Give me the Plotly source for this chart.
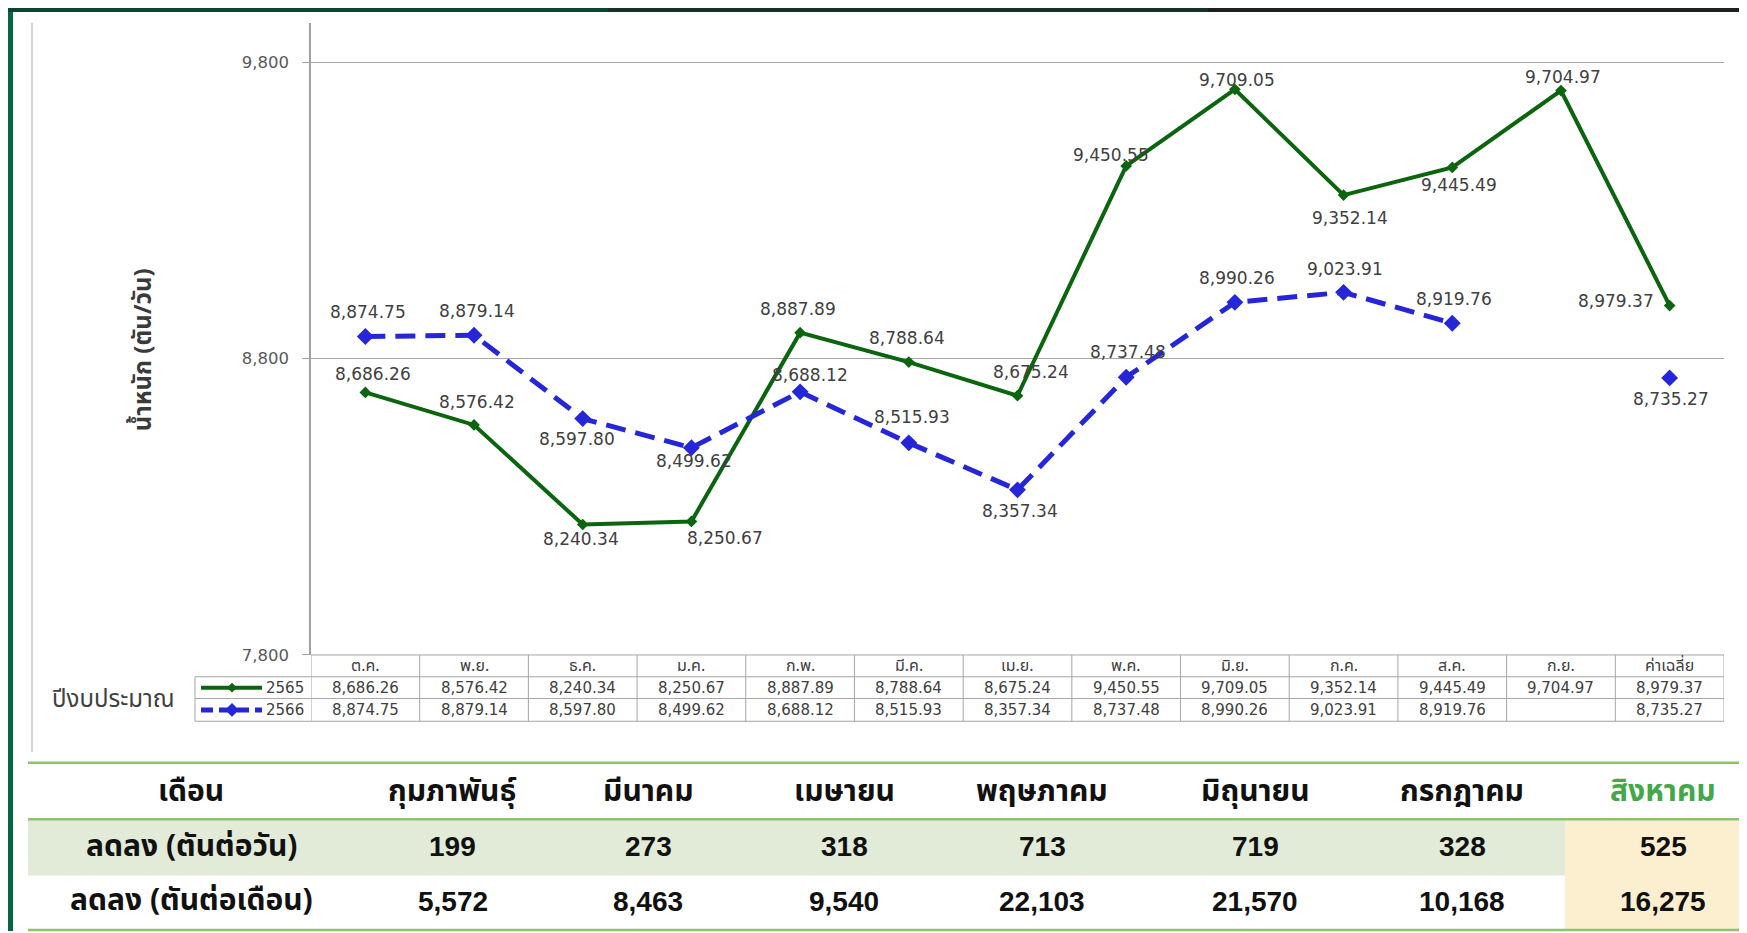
import plotly.graph_objects as go

# ---------------- data ----------------
categories = ["ต.ค.", "พ.ย.", "ธ.ค.", "ม.ค.", "ก.พ.", "มี.ค.", "เม.ย.", "พ.ค.",
              "มิ.ย.", "ก.ค.", "ส.ค.", "ก.ย.", "ค่าเฉลี่ย"]
series_2565 = [8686.26, 8576.42, 8240.34, 8250.67, 8887.89, 8788.64, 8675.24,
               9450.55, 9709.05, 9352.14, 9445.49, 9704.97, 8979.37]
series_2566 = [8874.75, 8879.14, 8597.80, 8499.62, 8688.12, 8515.93, 8357.34,
               8737.48, 8990.26, 9023.91, 8919.76, None, 8735.27]
series_names = ["2565", "2566"]
y_ticks = [7800, 8800, 9800]

months = ["กุมภาพันธุ์", "มีนาคม", "เมษายน", "พฤษภาคม", "มิถุนายน", "กรกฎาคม", "สิงหาคม"]
decrease_per_day = [199, 273, 318, 713, 719, 328, 525]
decrease_per_month = [5572, 8463, 9540, 22103, 21570, 10168, 16275]

# ---------------- layout helpers ----------------
W, H = 1747, 933
def px(x): return x / W
def py(y): return 1 - y / H

GREEN = "#0b650f"
BLUE = "#2626d9"
GRAY_TXT = "#404040"
BORDER = "#a6a6a6"
THAI = "Noto Sans Thai, Tahoma, Loma, Garuda, Kinnari, sans-serif"
LAT = "DejaVu Sans, Verdana, sans-serif"

# label offsets (pixels) for data labels
off_2565 = [(8, 18), (3, 23), (-2, -14), (34, -17), (-2, 24), (-2, 24), (13, 24),
            (-15, 11), (2, 9), (6, -23), (7, -18), (2, 14), (-54, 5)]
off_2566 = [(3, 25), (3, 24), (-6, -20), (3, -13), (10, 17), (3, 26), (2, -21),
            (2, 25), (2, 24), (1, 23), (2, 24), (0, 0), (1, -21)]

fig = go.Figure()

fig.add_trace(go.Scatter(
    x=categories, y=series_2565, name=series_names[0], mode="lines+markers",
    line=dict(color=GREEN, width=4),
    marker=dict(symbol="diamond", size=9, color=GREEN),
    showlegend=False, cliponaxis=False))
fig.add_trace(go.Scatter(
    x=categories, y=series_2566, name=series_names[1], mode="lines+markers",
    line=dict(color=BLUE, width=5, dash="20px,10px"),
    marker=dict(symbol="diamond", size=13, color=BLUE),
    connectgaps=False, showlegend=False, cliponaxis=False))

annotations = []
for series, offs in ((series_2565, off_2565), (series_2566, off_2566)):
    for c, v, (dx, dy) in zip(categories, series, offs):
        if v is None:
            continue
        annotations.append(dict(
            x=c, y=v, xref="x", yref="y", text=f"{v:,.2f}", showarrow=False,
            xshift=dx, yshift=dy, xanchor="center", yanchor="middle",
            font=dict(family=LAT, size=17, color=GRAY_TXT)))

# y-axis title
annotations.append(dict(
    x=px(136), y=py(346), xref="paper", yref="paper", text="น้ำหนัก (ตัน/วัน)",
    textangle=-90, showarrow=False, xanchor="center", yanchor="middle",
    font=dict(family=THAI, size=24, color="#3a3a3a", weight="bold")))

# ------------- chart data table ---------------
row_hdr = (654, 676)
row_a = (676, 698)
row_b = (698, 721)
legend_left = 187

shapes = []
for yy, x0 in ((654, 303), (676, legend_left), (698, legend_left), (721, legend_left)):
    shapes.append(dict(type="line", xref="paper", yref="paper",
                       x0=px(x0), x1=px(1716), y0=py(yy), y1=py(yy),
                       line=dict(color=BORDER, width=1)))
for k in range(len(categories) + 1):
    shapes.append(dict(type="line", xref="x", yref="paper",
                       x0=k - 0.5, x1=k - 0.5, y0=py(654), y1=py(721),
                       line=dict(color=BORDER, width=1)))
shapes.append(dict(type="line", xref="paper", yref="paper",
                   x0=px(legend_left), x1=px(legend_left), y0=py(676), y1=py(721),
                   line=dict(color=BORDER, width=1)))

for c in categories:
    annotations.append(dict(x=c, y=py(sum(row_hdr) / 2), xref="x", yref="paper",
                            text=c, showarrow=False, xanchor="center", yanchor="middle",
                            font=dict(family=THAI, size=16, color=GRAY_TXT)))
for series, row in ((series_2565, row_a), (series_2566, row_b)):
    for c, v in zip(categories, series):
        if v is None:
            continue
        annotations.append(dict(x=c, y=py(sum(row) / 2), xref="x", yref="paper",
                                text=f"{v:,.2f}", showarrow=False,
                                xanchor="center", yanchor="middle",
                                font=dict(family=LAT, size=15, color=GRAY_TXT)))

for name, row, col, dash, msize in ((series_names[0], row_a, GREEN, "solid", 5),
                                    (series_names[1], row_b, BLUE, "dash", 7)):
    yc = sum(row) / 2
    shapes.append(dict(type="line", xref="paper", yref="paper",
                       x0=px(193), x1=px(254), y0=py(yc), y1=py(yc),
                       line=dict(color=col, width=4 if dash == "solid" else 5,
                                 dash="solid" if dash == "solid" else "12px,6px")))
    xc = 224
    shapes.append(dict(type="path", xref="paper", yref="paper",
                       path=f"M {px(xc - msize)},{py(yc)} L {px(xc)},{py(yc - msize)} "
                            f"L {px(xc + msize)},{py(yc)} L {px(xc)},{py(yc + msize)} Z",
                       fillcolor=col, line=dict(color=col, width=0)))
    annotations.append(dict(x=px(298), y=py(yc), xref="paper", yref="paper", text=name,
                            showarrow=False, xanchor="right", yanchor="middle",
                            font=dict(family=LAT, size=15, color=GRAY_TXT)))

annotations.append(dict(x=px(105), y=py(700), xref="paper", yref="paper", text="ปีงบประมาณ",
                        showarrow=False, xanchor="center", yanchor="middle",
                        font=dict(family=THAI, size=24, color=GRAY_TXT)))

# chart-area left frame
shapes.append(dict(type="line", xref="paper", yref="paper", x0=px(24), x1=px(24),
                   y0=py(15), y1=py(752), line=dict(color="#c4c4c4", width=1.5)))

# slide decorations
shapes.append(dict(type="rect", xref="paper", yref="paper", x0=0, x1=px(5), y0=0, y1=1,
                   fillcolor="#05663f", line=dict(width=0), layer="above"))
for x0, x1, colr in ((0, 600, "#0c4431"), (600, 1200, "#143228"), (1200, 1747, "#1b1f1d")):
    shapes.append(dict(type="rect", xref="paper", yref="paper", x0=px(x0), x1=px(x1),
                       y0=py(4), y1=1, fillcolor=colr, line=dict(width=0), layer="above"))

# ------------- bottom summary table ---------------
col_centers = [183, 445, 640, 836, 1034, 1247, 1454, 1655]
hdr_y, r1_y, r2_y = 792, 848, 903
shapes.append(dict(type="rect", xref="paper", yref="paper", x0=px(20), x1=px(1557),
                   y0=py(877), y1=py(820), fillcolor="#e2ebd8", line=dict(width=0), layer="below"))
shapes.append(dict(type="rect", xref="paper", yref="paper", x0=px(1557), x1=1,
                   y0=py(932), y1=py(820), fillcolor="#fcefcf", line=dict(width=0), layer="below"))
for yy in (763, 820, 932):
    shapes.append(dict(type="line", xref="paper", yref="paper", x0=px(20), x1=1,
                       y0=py(yy), y1=py(yy), line=dict(color="#8dc36f", width=2.5)))

BIG = dict(family="Liberation Sans, Arial, sans-serif", size=28, color="#111111", weight="bold")
BIG_TH = dict(family=THAI, size=30, color="#111111", weight="bold")

def cell(x, y, text, font):
    annotations.append(dict(x=px(x), y=py(y), xref="paper", yref="paper", text=text,
                            showarrow=False, xanchor="center", yanchor="middle", font=font))

cell(col_centers[0], hdr_y, "เดือน", BIG_TH)
cell(col_centers[0], r1_y, "ลดลง (ตันต่อวัน)", BIG_TH)
cell(col_centers[0], r2_y, "ลดลง (ตันต่อเดือน)", BIG_TH)
for i, m in enumerate(months):
    f = dict(BIG_TH)
    if i == len(months) - 1:
        f["color"] = "#43a84a"
    cell(col_centers[i + 1], hdr_y, m, f)
    cell(col_centers[i + 1], r1_y, f"{decrease_per_day[i]:,}", BIG)
    cell(col_centers[i + 1], r2_y, f"{decrease_per_month[i]:,}", BIG)

y_top = 7800 + (654 - 15) / (599 / 2000)

fig.update_layout(
    width=W, height=H, margin=dict(l=0, r=0, t=0, b=0),
    paper_bgcolor="white", plot_bgcolor="white",
    xaxis=dict(domain=[px(303), px(1716)], range=[-0.5, 12.5], type="category",
               categoryorder="array", categoryarray=categories,
               showticklabels=False, showgrid=False, zeroline=False, showline=False, ticks=""),
    yaxis=dict(domain=[py(654), py(15)], range=[7800, y_top],
               tickvals=y_ticks, ticktext=[f"{t:,}" for t in y_ticks],
               showgrid=True, gridcolor="#a6a6a6", gridwidth=1, zeroline=False,
               showline=True, linecolor="#a0a0a0", linewidth=1.5,
               ticks="outside", ticklen=7, tickcolor="#a0a0a0",
               ticklabelstandoff=10,
               tickfont=dict(family=LAT, size=16.5, color="#595959")),
    shapes=shapes, annotations=annotations, showlegend=False,
)

fig.write_html("out.html")
